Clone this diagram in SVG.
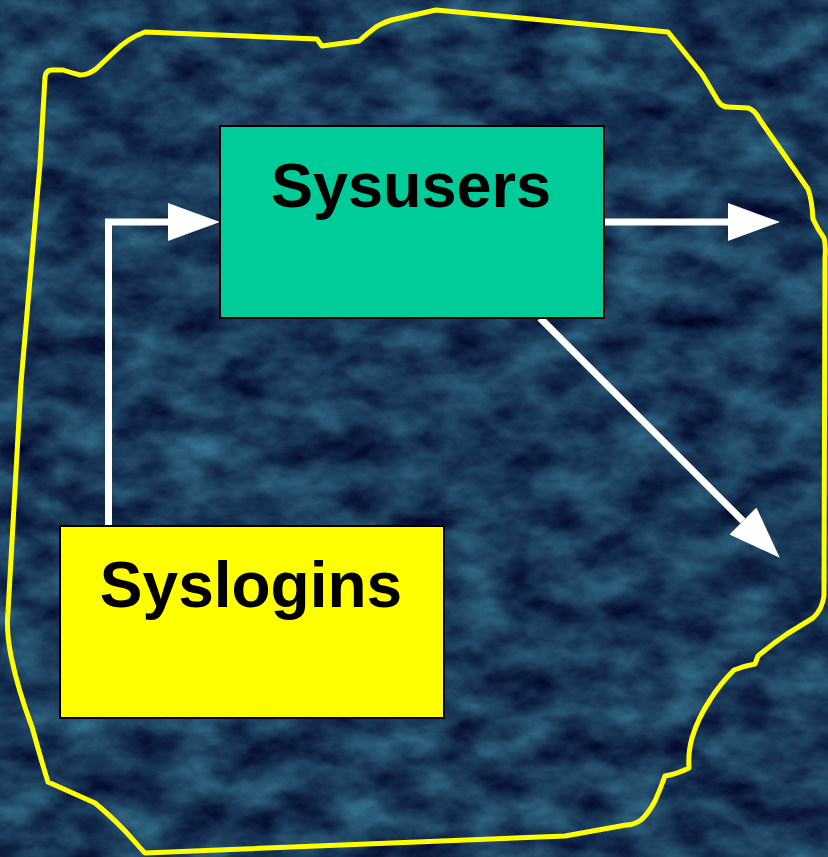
<svg xmlns="http://www.w3.org/2000/svg" width="828" height="857" viewBox="0 0 828 857">
  <defs>
    <filter id="tex" x="0" y="0" width="100%" height="100%" color-interpolation-filters="sRGB">
      <feTurbulence type="fractalNoise" baseFrequency="0.018 0.03" numOctaves="4" seed="7" result="n"/>
      <feColorMatrix in="n" type="matrix" values="0.26 0 0 0 -0.03  0.55 0 0 0 -0.05  0.5 0 0 0 0.1  0 0 0 0 1"/>
    </filter>
    <marker id="ah" viewBox="0 0 52 38" refX="0" refY="19" markerWidth="52" markerHeight="38" markerUnits="userSpaceOnUse" orient="auto">
      <path d="M0,0 L52,19 L0,38 Z" fill="#ffffff"/>
    </marker>
  </defs>
  <style>
    .node rect { stroke: #000000; stroke-width: 2; }
    .label { font-family: "Liberation Sans", Arial, sans-serif; font-weight: bold; font-size: 63px; fill: #000000; text-anchor: middle; }
    .conn { stroke: #ffffff; stroke-width: 7; fill: none; }
  </style>

  <rect x="0" y="0" width="828" height="857" fill="#1e3f58"/>
  <rect x="0" y="0" width="828" height="857" filter="url(#tex)"/>

  <path id="outline" fill="none" stroke="#ffff00" stroke-width="5" stroke-linejoin="round"
    d="M45,77 Q46,70 52,70 L63,70 Q72,73 80,75 Q88,75 96,69 L114,52 Q128,38 145,32 L317,39 L322,46 L359,41 Q368,33 376,27 Q386,21 396,19 L436,10 L668,32 L702,74 L718,101 Q722,107 728,107 L748,108 Q755,110 760,120 L808,189 Q812,200 813,219 Q818,230 824,238 Q826,246 825,257 L824,596 Q822,610 813,618 Q800,626 787,634 Q772,644 758,656 L755,664 Q744,666 734,670 Q720,684 710,700 Q698,718 692,738 Q688,752 689,768 Q677,774 665,776 Q660,790 655,801 Q648,814 641,820 Q634,825 626,825 L565,836 L145,853 Q140,848 135,842 Q118,822 95,803 L48,782 Q40,756 32,727 Q18,690 11,656 Q6,630 8,612 L21,383 L40,164 Z"/>

  <g id="connectors">
    <polyline class="conn" points="108.5,526 108.5,222 168,222" marker-end="url(#ah)"/>
    <line class="conn" x1="604" y1="222" x2="728" y2="222" marker-end="url(#ah)"/>
    <line class="conn" x1="540" y1="318" x2="743" y2="521" marker-end="url(#ah)"/>
  </g>

  <g id="sysusers" class="node">
    <rect x="220" y="126" width="384" height="192" fill="#00cc99"/>
    <text class="label" x="411" y="207">Sysusers</text>
  </g>

  <g id="syslogins" class="node">
    <rect x="60" y="526" width="384" height="192" fill="#ffff00"/>
    <text class="label" x="251" y="607" style="font-size:64px">Syslogins</text>
  </g>
</svg>
